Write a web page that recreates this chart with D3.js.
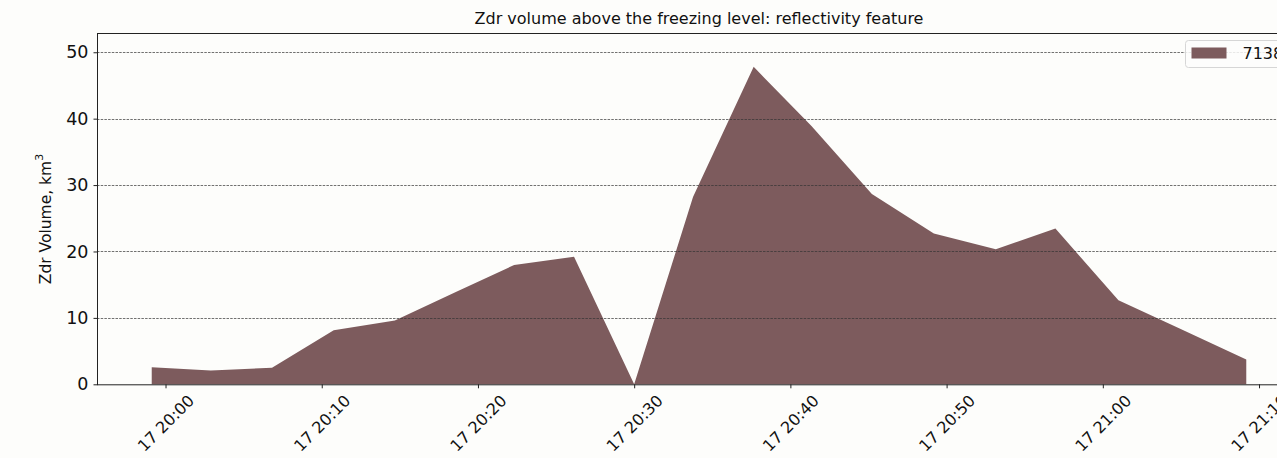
<!DOCTYPE html>
<html>
<head>
<meta charset="utf-8">
<script src="https://cdn.jsdelivr.net/npm/d3@7"></script>
<style>
  html, body { margin: 0; padding: 0; background: #fdfdfb; }
  svg { display: block; font-family: "DejaVu Sans", sans-serif; }
</style>
</head>
<body>
<div id="chart"></div>
<script>
// scan times (day 17) and Zdr volume above the freezing level, km³
const times = [
  '19:59:07', '20:02:54', '20:06:49', '20:10:46', '20:14:41', '20:18:35',
  '20:22:19', '20:26:09', '20:30:00', '20:33:46', '20:37:39', '20:41:21',
  '20:45:13', '20:49:11', '20:53:09', '20:56:58', '21:01:00', '21:04:55',
  '21:09:11'
];
const volumes = [
  2.56, 2.06, 2.5, 8.13, 9.6, 13.9,
  17.97, 19.2, 0, 28.2, 47.8, 38.9,
  28.65, 22.7, 20.33, 23.45, 12.65, 8.4,
  3.72
];
const yTicks = [0, 10, 20, 30, 40, 50];
const seriesName = '71384';
const chartTitle = 'Zdr volume above the freezing level: reflectivity feature';

const width = 1277;
const height = 458;
// the axes run past the right edge of the picture, like the reference
const margin = { left: 97, top: 33, right: 1301, bottom: 384.3 };
const fillColor = '#7d5b5d';

const parseT = d3.timeParse('%Y-%m-%d %H:%M:%S');
const data = times.map((t, i) => ({ t: parseT('2019-05-17 ' + t), v: volumes[i] }));

// 5 % padding on the time axis, as matplotlib does
const ext = d3.extent(data, d => d.t);
const pad = (ext[1] - ext[0]) * 0.05;

const x = d3.scaleTime()
  .domain([new Date(+ext[0] - pad), new Date(+ext[1] + pad)])
  .range([margin.left, margin.right]);

const y = d3.scaleLinear()
  .domain([0, 52.9])
  .range([margin.bottom, margin.top]);

const svg = d3.select('#chart')
  .append('svg')
  .attr('width', width)
  .attr('height', height);

svg.append('rect')
  .attr('width', width)
  .attr('height', height)
  .attr('fill', '#fdfdfb');

// area
const area = d3.area()
  .x(d => x(d.t))
  .y0(y(0))
  .y1(d => y(d.v));

svg.append('path')
  .datum(data)
  .attr('d', area)
  .attr('fill', fillColor);

// dashed grid over the fill
svg.append('g')
  .selectAll('line')
  .data(yTicks.filter(d => d > 0))
  .join('line')
  .attr('x1', margin.left)
  .attr('x2', margin.right)
  .attr('y1', d => Math.round(y(d)) + 0.5)
  .attr('y2', d => Math.round(y(d)) + 0.5)
  .attr('stroke', '#333')
  .attr('stroke-width', 0.7)
  .attr('stroke-dasharray', '2.5,1.2');

// spines
svg.append('rect')
  .attr('x', margin.left + 0.5)
  .attr('y', margin.top + 0.5)
  .attr('width', margin.right - margin.left)
  .attr('height', margin.bottom - margin.top)
  .attr('fill', 'none')
  .attr('stroke', '#222')
  .attr('stroke-width', 1);

// y axis
const yAxis = svg.append('g')
  .attr('transform', `translate(${margin.left + 0.5},0)`)
  .call(d3.axisLeft(y).tickValues(yTicks).tickSize(4).tickPadding(5));
yAxis.select('.domain').remove();
yAxis.selectAll('text')
  .attr('font-size', '17.5px')
  .attr('fill', '#111')
  .attr('font-family', '"DejaVu Sans", sans-serif');
yAxis.selectAll('line').attr('stroke', '#222');

// x axis
const xAxis = svg.append('g')
  .attr('transform', `translate(0,${margin.bottom})`)
  .call(d3.axisBottom(x)
    .ticks(d3.timeMinute.every(10))
    .tickFormat(d3.timeFormat('%d %H:%M'))
    .tickSize(4));
xAxis.select('.domain').remove();
xAxis.selectAll('line').attr('stroke', '#222');
xAxis.selectAll('text')
  .attr('font-size', '16px')
  .attr('fill', '#111')
  .attr('font-family', '"DejaVu Sans", sans-serif')
  .attr('text-anchor', 'middle')
  .attr('dy', null)
  .attr('y', null)
  .attr('dominant-baseline', 'central')
  .attr('transform', 'translate(0,39) rotate(-45)');

// y label
svg.append('text')
  .attr('transform', `translate(46,219) rotate(-90)`)
  .attr('text-anchor', 'middle')
  .attr('dominant-baseline', 'central')
  .attr('font-size', '15.5px')
  .attr('fill', '#111')
  .text('Zdr Volume, km')
  .append('tspan')
  .attr('baseline-shift', 'super')
  .attr('font-size', '11px')
  .text('3');

// title
svg.append('text')
  .attr('x', (margin.left + margin.right) / 2)
  .attr('y', 24)
  .attr('text-anchor', 'middle')
  .attr('font-size', '16px')
  .attr('fill', '#111')
  .text(chartTitle);

// legend, top right
const legend = svg.append('g').attr('transform', 'translate(1185.5,40.5)');
legend.append('rect')
  .attr('width', 108)
  .attr('height', 27)
  .attr('rx', 3)
  .attr('fill', '#fdfdfb')
  .attr('fill-opacity', 0.85)
  .attr('stroke', '#d6d6d6');
legend.append('rect')
  .attr('x', 6)
  .attr('y', 7)
  .attr('width', 35)
  .attr('height', 11)
  .attr('fill', fillColor);
legend.append('text')
  .attr('x', 57)
  .attr('y', 18.5)
  .attr('font-size', '16px')
  .attr('fill', '#111')
  .text(seriesName);
</script>
</body>
</html>
